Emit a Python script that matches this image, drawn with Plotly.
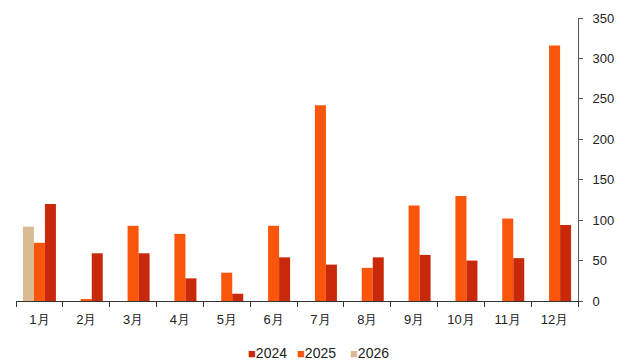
import plotly.graph_objects as go

months = ["1月", "2月", "3月", "4月", "5月", "6月", "7月", "8月", "9月", "10月", "11月", "12月"]
v2024 = [120, 59, 59, 28, 9, 54, 45, 54, 57, 50, 53, 94]
v2025 = [72, 2, 93, 83, 35, 93, 242, 41, 118, 130, 102, 316]
v2026 = [92, None, None, None, None, None, None, None, None, None, None, None]
legend_names = ["2024", "2025", "2026"]
legend_x = [0.409, 0.496, 0.591]  # left edge of each legend entry (paper units)

colors = {"2024": "#C8290A", "2025": "#F9560B", "2026": "#D9BA93"}

fig = go.Figure()
# drawn left-to-right within each month: 2026, 2025, 2024
for name, vals in [("2026", v2026), ("2025", v2025), ("2024", v2024)]:
    fig.add_trace(go.Bar(x=months, y=vals, name=name, marker_color=colors[name],
                         marker_line_width=0, showlegend=False))

# compact legend row beneath the chart
for name, lx in zip(legend_names, legend_x):
    fig.add_annotation(
        text=f"<span style='color:{colors[name]};font-size:13px'>■</span>{name}",
        xref="paper", yref="paper", x=lx, y=-0.184,
        xanchor="left", yanchor="middle", showarrow=False,
        font=dict(size=14, color="#222"),
    )

fig.update_layout(
    width=617, height=363,
    margin=dict(l=16, r=39, t=18, b=62, autoexpand=False),
    paper_bgcolor="white", plot_bgcolor="white",
    barmode="group", bargap=0.295, bargroupgap=0,
    font=dict(family="Liberation Sans, Arial, sans-serif", size=13, color="#222"),
)
fig.update_xaxes(
    automargin=False,
    showline=True, linecolor="#333", linewidth=1,
    ticks="outside", ticklen=5, tickcolor="#333", tickson="boundaries",
    ticklabelstandoff=6,
    showgrid=False, zeroline=False, tickfont=dict(size=13),
)
fig.update_yaxes(
    automargin=False,
    side="right", range=[0, 350], dtick=50,
    showline=True, linecolor="#555", linewidth=1,
    ticks="outside", ticklen=4, tickcolor="#555",
    ticklabelstandoff=7,
    showgrid=False, zeroline=False, tickfont=dict(size=13),
)

fig.write_html("out.html")
